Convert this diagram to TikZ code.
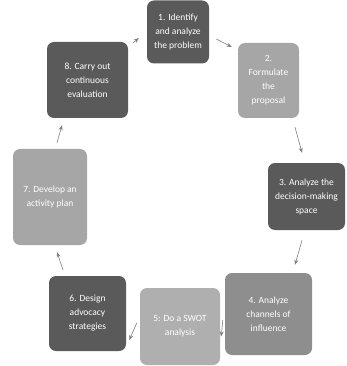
\documentclass[tikz,border=0pt]{standalone}
\usepackage{fontspec}
\setmainfont{Carlito}
\usetikzlibrary{arrows.meta}
\definecolor{darkstep}{HTML}{5A5A5A}
\definecolor{midstep}{HTML}{8E8E8E}
\definecolor{lightstep}{HTML}{A6A6A6}
\definecolor{link}{HTML}{7F7F7F}

\begin{document}
\begin{tikzpicture}[x=1pt,y=-1pt,
      font=\fontsize{9.5}{14}\selectfont,
      box/.style={rounded corners=7pt,text=white,align=center,inner sep=2pt},
      dark/.style={box,fill=darkstep},
      mid/.style={box,fill=midstep},
      light/.style={box,fill=lightstep},
      arr/.style={-{Stealth[length=1.8mm,width=1.4mm]},line width=0.6pt,link}]

    \useasboundingbox (0,0) rectangle (347,366);

    \node[dark,minimum width=62pt,minimum height=63pt] (prob) at (178,32) {1. Identify\\and analyze\\the problem};
    \node[light,minimum width=61pt,minimum height=75pt] (prop) at (268.5,80.5) {2.\\Formulate\\the\\proposal};
    \node[dark,minimum width=77pt,minimum height=67pt] (space) at (306.5,196.5) {3. Analyze the\\decision-making\\space};
    \node[mid,minimum width=87pt,minimum height=82pt] (chan) at (268.5,314) {4. Analyze\\channels of\\influence};
    \node[light,minimum width=80pt,minimum height=77pt,fill=lightstep!90!white] (swot) at (180,326.5) {5: Do a SWOT\\analysis};
    \node[dark,minimum width=77pt,minimum height=75pt] (strat) at (87.5,313.5) {6. Design\\advocacy\\strategies};
    \node[light,minimum width=74pt,minimum height=96pt] (plan) at (50,197) {7. Develop an\\activity plan};
    \node[dark,minimum width=81pt,minimum height=76pt] (eval) at (87.5,80) {8. Carry out\\continuous\\evaluation};

    \draw[arr] ([shift={(7,7)}]prob.east) -- ([shift={(-6,-33.5)}]prop.west);
    \draw[arr] ([shift={(26.5,9)}]prop.south) -- ([shift={(-4.5,-10)}]space.north);
    \draw[arr] ([shift={(-4.5,10)}]space.south) -- ([shift={(26.5,-8)}]chan.north);
    \draw[arr] ([shift={(-2,6)}]chan.west) -- ([shift={(1,10)}]swot.east);
    \draw[arr] ([shift={(-3,-3.5)}]swot.west) -- ([shift={(3,26.5)}]strat.east);
    \draw[arr] ([shift={(-24.5,-6)}]strat.north) -- ([shift={(7,7)}]plan.south);
    \draw[arr] ([shift={(7,-6)}]plan.north) -- ([shift={(-25.5,7)}]eval.south);
    \draw[arr] ([shift={(5,1)}]eval.north east) -- ([shift={(-8,6)}]prob.west);
\end{tikzpicture}
\end{document}
